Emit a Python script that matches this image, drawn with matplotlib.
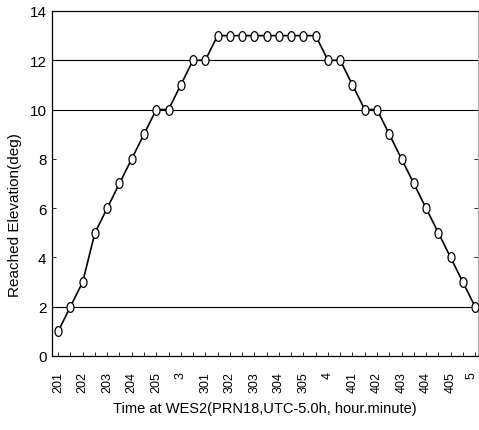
import numpy as np
import matplotlib.pyplot as plt
import matplotlib.transforms as mtransforms
from matplotlib.path import Path

# minutes after 2:00, one sample every 5 minutes (2:10 .. 5:00)
minutes = list(range(10, 181, 5))
elevation = [1, 2, 3, 5, 6, 7, 8, 9, 10, 10, 11, 12, 12,
             13, 13, 13, 13, 13, 13, 13, 13, 13,
             12, 12, 11, 10, 10, 9, 8, 7, 6, 5, 4, 3, 2]

tick_minutes = [10, 20, 30, 40, 50, 60, 70, 80, 90, 100, 110, 120,
                130, 140, 150, 160, 170, 180]
tick_labels = ["201", "202", "203", "204", "205", "3",
               "301", "302", "303", "304", "305", "4",
               "401", "402", "403", "404", "405", "5"]
ref_lines = [2, 10, 12]

plt.rcParams['font.family'] = ['Liberation Sans', 'DejaVu Sans']

# slightly tall open ellipse marker
t = np.linspace(0, 2 * np.pi, 40)
ellipse = Path(np.column_stack([0.72 * np.cos(t), np.sin(t)]), closed=True)

fig = plt.figure(figsize=(4.79, 4.31), dpi=100)
ax = fig.add_axes([0.1086, 0.1717, 0.8894, 0.8005])

for y in ref_lines:
    ax.axhline(y, color='black', lw=0.8, zorder=1)

ax.plot(minutes, elevation, color='black', lw=1.2, marker=ellipse,
        markersize=7, markerfacecolor='white', markeredgecolor='black',
        markeredgewidth=0.9, zorder=3)

ax.set_xlim(7.5, 181.2)
ax.set_ylim(0, 14)
ax.set_yticks(range(0, 15, 2))
ax.set_xticks(tick_minutes)
ax.set_xticklabels(tick_labels, rotation=90, va='top', fontsize=9)
ax.set_xticks(minutes, minor=True)
ax.tick_params(axis='y', direction='in', right=True, length=3, width=0.6,
               labelsize=11, pad=4)
ax.tick_params(axis='x', which='both', direction='in', length=3, width=0.6,
               pad=11)

# last label sits right at the figure edge; nudge it inside
last = ax.get_xticklabels()[-1]
last.set_transform(last.get_transform() +
                   mtransforms.ScaledTranslation(-4 / 100, 0, fig.dpi_scale_trans))

for side in ['left', 'bottom', 'top']:
    ax.spines[side].set_linewidth(0.9)
ax.spines['right'].set_color('#aaaaaa')
ax.spines['right'].set_linewidth(0.8)

ax.set_xlabel("Time at WES2(PRN18,UTC-5.0h, hour.minute)", fontsize=10.5,
              labelpad=6)
ax.set_ylabel("Reached Elevation(deg)", fontsize=11)
ax.yaxis.set_label_coords(-0.07, 0.41)

fig.savefig("out.png", dpi=100)
